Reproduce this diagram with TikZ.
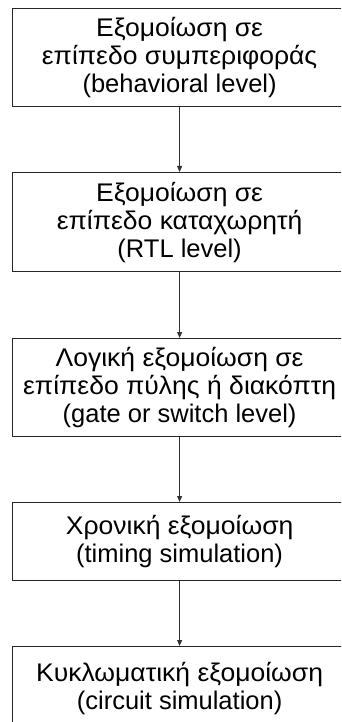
\documentclass[tikz,border=0pt]{standalone}
\usepackage{fontspec}
\setmainfont{Liberation Sans}
\newfontfamily\grk[FakeStretch=1.04]{Liberation Sans}
\usetikzlibrary{arrows.meta}
\begin{document}
\begin{tikzpicture}[x=1pt,y=-1pt,
  blk/.style={draw=black!85,line width=1.2pt,minimum width=334pt,inner sep=0pt,
    align=center,font=\fontsize{25.5}{28}\selectfont,anchor=north west},
  conn/.style={draw=black!80,line width=0.8pt,-{Triangle[length=6pt,width=5pt]}}]
\useasboundingbox (0,0) rectangle (341,722);
\clip (0,0) rectangle (341,722);
\node[blk,minimum height=98pt] (a) at (12,8) {{\grk Εξομοίωση σε}\\{\grk επίπεδο συμπεριφοράς}\\(behavioral level)};
\node[blk,minimum height=99pt] (b) at (12,172) {{\grk Εξομοίωση σε}\\{\grk επίπεδο καταχωρητή}\\(RTL level)};
\node[blk,minimum height=98pt] (c) at (12,338) {{\grk Λογική εξομοίωση σε}\\{\grk επίπεδο πύλης ή διακόπτη}\\(gate or switch level)};
\node[blk,minimum height=78pt] (d) at (12,502) {{\grk Χρονική εξομοίωση}\\(timing simulation)};
\node[blk,minimum height=84pt] (e) at (12,646) {{\grk Κυκλωματική εξομοίωση}\\(circuit simulation)};
\draw[conn] (a.south) -- (b.north);
\draw[conn] (b.south) -- (c.north);
\draw[conn] (c.south) -- (d.north);
\draw[conn] (d.south) -- (e.north);
\end{tikzpicture}
\end{document}
